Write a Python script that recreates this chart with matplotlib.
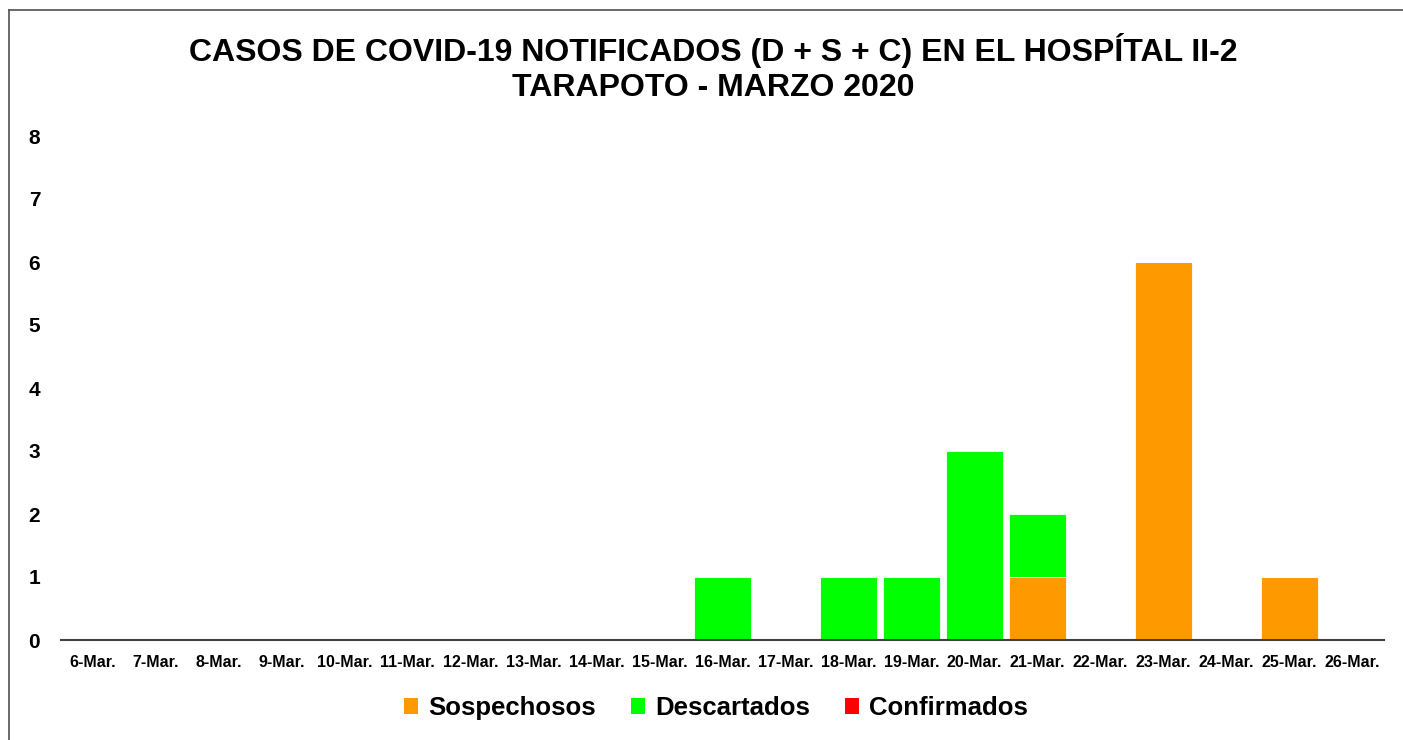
import numpy as np
import matplotlib
matplotlib.use("Agg")
import matplotlib.pyplot as plt
from matplotlib.lines import Line2D
from matplotlib.patches import Patch

plt.rcParams["font.family"] = ["Liberation Sans", "DejaVu Sans"]
plt.rcParams["font.weight"] = "bold"

# data
fechas = ["6-Mar.", "7-Mar.", "8-Mar.", "9-Mar.", "10-Mar.", "11-Mar.", "12-Mar.",
          "13-Mar.", "14-Mar.", "15-Mar.", "16-Mar.", "17-Mar.", "18-Mar.", "19-Mar.",
          "20-Mar.", "21-Mar.", "22-Mar.", "23-Mar.", "24-Mar.", "25-Mar.", "26-Mar."]
sospechosos = [0, 0, 0, 0, 0, 0, 0, 0, 0, 0, 0, 0, 0, 0, 0, 1, 0, 6, 0, 1, 0]
descartados = [0, 0, 0, 0, 0, 0, 0, 0, 0, 0, 1, 0, 1, 1, 3, 1, 0, 0, 0, 0, 0]
confirmados = [0] * 21

colors = {"Sospechosos": "#FF9900", "Descartados": "#00FF00", "Confirmados": "#FF0000"}

fig = plt.figure(figsize=(14.03, 7.40), dpi=100)
ax = fig.add_axes([61 / 1403, 1 - 640 / 740, (1384 - 61) / 1403, (640 - 136) / 740])

x = np.arange(len(fechas))
s = np.array(sospechosos)
d = np.array(descartados)
c = np.array(confirmados)
w = 0.92

ax.bar(x, s, width=w, color=colors["Sospechosos"], edgecolor="white", linewidth=0.6)
ax.bar(x, d, width=w, bottom=s, color=colors["Descartados"], edgecolor="white", linewidth=0.6)
ax.bar(x, c, width=w, bottom=s + d, color=colors["Confirmados"], linewidth=0)

ax.set_xlim(-0.5, len(fechas) - 0.5)
ax.set_ylim(0, 8)
ax.set_yticks(range(0, 9))
ax.set_xticks(x)
ax.set_xticklabels(fechas, fontsize=11.5, fontweight="bold")
ax.tick_params(axis="x", length=0, pad=11)
ax.tick_params(axis="y", length=0, pad=15, labelsize=15)
for lbl in ax.get_yticklabels():
    lbl.set_fontweight("bold")

for side in ["top", "right", "left"]:
    ax.spines[side].set_visible(False)
ax.spines["bottom"].set_color("#404040")
ax.spines["bottom"].set_linewidth(1.5)

fig.text(713 / 1403, 1 - 50 / 740, "CASOS DE COVID-19 NOTIFICADOS (D + S + C) EN EL HOSPÍTAL II-2",
         ha="center", va="center", fontsize=23, fontweight="bold")
fig.text(713 / 1403, 1 - 88 / 740, "TARAPOTO - MARZO 2020",
         ha="center", va="center", fontsize=23, fontweight="bold")

handles = [Patch(facecolor=colors[k], edgecolor="none") for k in colors]
fig.legend(handles, list(colors.keys()), loc="center", bbox_to_anchor=(716 / 1403, 1 - 708 / 740),
           ncol=3, frameon=False, handlelength=0.55, handleheight=0.55,
           handletextpad=0.4, columnspacing=1.35, prop={"weight": "bold", "size": 18.5})

# chart border (only top and left visible in the reference)
fig.add_artist(Line2D([9 / 1403, 9 / 1403], [-0.05, 1 - 10 / 740], transform=fig.transFigure,
                      color="#505050", linewidth=1.2))
fig.add_artist(Line2D([9 / 1403, 1.05], [1 - 10 / 740, 1 - 10 / 740], transform=fig.transFigure,
                      color="#505050", linewidth=1.2))

fig.savefig("out.png", dpi=100, facecolor="white")
